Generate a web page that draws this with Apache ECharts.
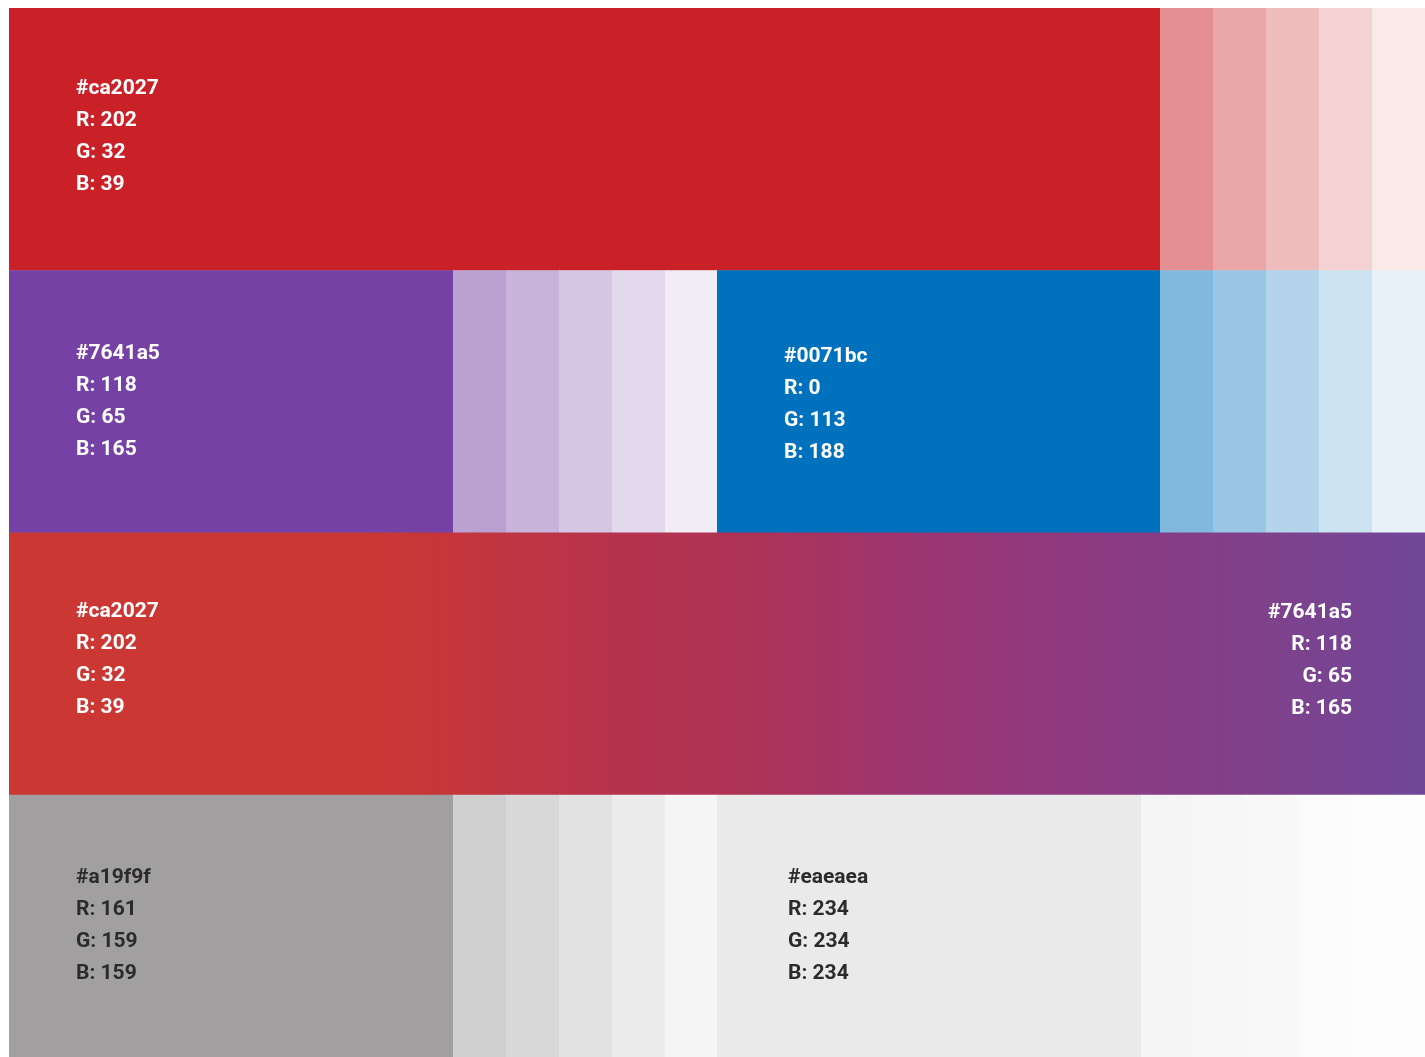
<!DOCTYPE html>
<html><head><meta charset="utf-8">
<script src="https://cdn.jsdelivr.net/npm/echarts@6/dist/echarts.min.js"></script>
<style>html,body{margin:0;padding:0;background:#fff;overflow:hidden}#chart{width:1425px;height:1057px}</style>
</head><body><div id="chart"></div>
<script>
// ---- data ----
const rowNames = ['Red', 'Purple and Blue', 'Red to Purple', 'Greys'];

const row1Colors = ['#ca2027', '#e49093', '#eaa6a9', '#efbcbe', '#f4d2d3', '#fae9e9'];
const row1Widths = [1151, 53, 53, 53, 53, 53];

const row2Colors = ['#7641a5', '#bba0d2', '#c8b3db', '#d6c6e4', '#e3d9ed', '#f1ecf6',
                    '#0071bc', '#80b8de', '#99c6e4', '#b3d4eb', '#cce3f2', '#e6f1f8'];
const row2Widths = [444, 53, 53, 53, 53, 52, 443, 53, 53, 53, 53, 53];

const row3Widths = [1416];
const gradientPositions = [0, 354, 445, 536, 627, 703, 794, 885, 1067, 1249, 1416];
const gradientColors = ['#cb3733', '#cb3733', '#c5363b', '#bd3446', '#b5334f', '#b03353',
                        '#a8345f', '#9e3570', '#8d397f', '#7f418a', '#71479a'];

const row4Colors = ['#a19f9f', '#d0cfcf', '#d9d8d8', '#e3e2e2', '#ececec', '#f6f5f5',
                    '#eaeaea', '#f5f5f5', '#f7f7f7', '#f9f9f9', '#fbfbfb', '#fdfdfd'];
const row4Widths = [444, 53, 53, 53, 53, 52, 424, 53, 53, 53, 53, 72];

const labelRed    = ['#ca2027', 'R: 202', 'G: 32', 'B: 39'];
const labelPurple = ['#7641a5', 'R: 118', 'G: 65', 'B: 165'];
const labelBlue   = ['#0071bc', 'R: 0', 'G: 113', 'B: 188'];
const labelGrey   = ['#a19f9f', 'R: 161', 'G: 159', 'B: 159'];
const labelLight  = ['#eaeaea', 'R: 234', 'G: 234', 'B: 234'];

// ---- build items (stacked segments per row) ----
const rowsDef = [
  { widths: row1Widths, colors: row1Colors, labels: { 0: labelRed } },
  { widths: row2Widths, colors: row2Colors, labels: { 0: labelPurple, 6: labelBlue } },
  { widths: row3Widths, colors: ['gradient'], labels: { 0: labelRed }, rightLabels: { 0: labelPurple } },
  { widths: row4Widths, colors: row4Colors, labels: { 0: labelGrey, 6: labelLight } }
];
const items = [];
const meta = [];
rowsDef.forEach(function (r, ri) {
  let acc = 0;
  r.widths.forEach(function (w, si) {
    items.push([acc, acc + w, ri]);
    meta.push({
      row: ri,
      color: r.colors[si],
      label: r.labels[si] || null,
      rightLabel: (r.rightLabels && r.rightLabels[si]) || null
    });
    acc += w;
  });
});
const darkText = { '#a19f9f': true, '#eaeaea': true };
const axisMax = 1416;
const FONT = 'bold 21px Roboto';

function fillFor(c) {
  if (c !== 'gradient') return c;
  return new echarts.graphic.LinearGradient(0, 0, 1, 0,
    gradientPositions.map(function (p, i) { return { offset: p / axisMax, color: gradientColors[i] }; }));
}

const chart = echarts.init(document.getElementById('chart'), null, { renderer: 'canvas' });
chart.setOption({
  backgroundColor: '#ffffff',
  animation: false,
  grid: { left: 9, right: 0, top: 8, bottom: 0, containLabel: false },
  xAxis: { type: 'value', min: 0, max: axisMax, show: false },
  yAxis: { type: 'category', data: rowNames, inverse: true, show: false },
  series: [{
    type: 'custom',
    data: items,
    renderItem: function (params, api) {
      const m = meta[params.dataIndex];
      const s = api.coord([api.value(0), api.value(2)]);
      const e = api.coord([api.value(1), api.value(2)]);
      const h = api.size([0, 1])[1];
      const x0 = Math.round(s[0]), x1 = Math.round(e[0]);
      const y0 = s[1] - h / 2;
      const children = [{
        type: 'rect',
        shape: { x: x0, y: y0, width: x1 - x0 + 0.5, height: h + 0.5 },
        style: { fill: fillFor(m.color) }
      }];
      const textColor = darkText[m.color] ? '#2b2b2b' : '#ffffff';
      let dy = m.row === 2 ? -4 : (m.row === 0 ? -2 : 0);
      if (m.color === '#0071bc') dy += 3;
      if (m.label) {
        children.push({
          type: 'text',
          x: x0 + (m.color === '#eaeaea' ? 71 : 67),
          y: s[1] + dy,
          style: {
            text: m.label.join('\n'),
            fill: textColor,
            font: FONT,
            lineHeight: 32,
            align: 'left',
            verticalAlign: 'middle'
          }
        });
      }
      if (m.rightLabel) {
        children.push({
          type: 'text',
          x: x1 - 73,
          y: s[1] + dy + 1,
          style: {
            text: m.rightLabel.join('\n'),
            fill: '#ffffff',
            font: FONT,
            lineHeight: 32,
            align: 'right',
            verticalAlign: 'middle'
          }
        });
      }
      return { type: 'group', children: children };
    }
  }]
});
</script>
</body></html>
